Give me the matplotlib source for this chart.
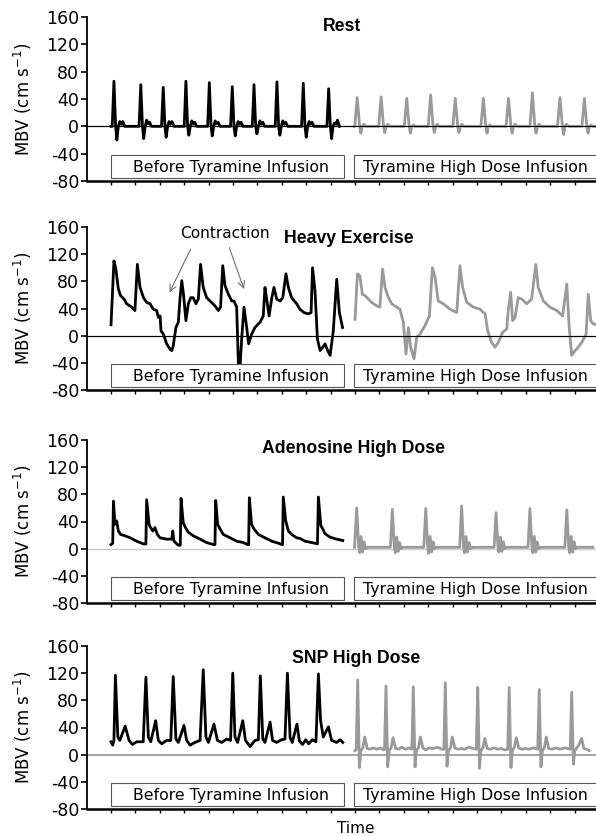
import matplotlib.pyplot as plt
from matplotlib.patches import Rectangle

# time is in tick units (one tick mark per unit), values in cm/s

# --- Rest ---
rest_before_t = [0.00,
                 0.05, 0.12, 0.19, 0.24, 0.30, 0.36, 0.42, 0.48, 0.56,
                 1.15, 1.22, 1.29, 1.34, 1.40, 1.46, 1.52, 1.58, 1.66,
                 2.07, 2.14, 2.21, 2.26, 2.32, 2.38, 2.44, 2.50, 2.58,
                 3.00, 3.07, 3.14, 3.19, 3.25, 3.31, 3.37, 3.43, 3.51,
                 3.96, 4.03, 4.10, 4.15, 4.21, 4.27, 4.33, 4.39, 4.47,
                 4.90, 4.97, 5.04, 5.09, 5.15, 5.21, 5.27, 5.33, 5.41,
                 5.79, 5.86, 5.93, 5.98, 6.04, 6.10, 6.16, 6.22, 6.30,
                 6.73, 6.80, 6.87, 6.92, 6.98, 7.04, 7.10, 7.16, 7.24,
                 7.81, 7.88, 7.95, 8.00, 8.06, 8.12, 8.18, 8.24, 8.32,
                 8.85, 8.92, 8.99, 9.04, 9.10, 9.16, 9.22, 9.28, 9.36]
rest_before_v = [0,
                 0, 66, 0, -20, 0, 7, 3, 7, 0,
                 0, 61, 0, -18, 0, 9, 4, 6, 0,
                 0, 57, 0, -16, 0, 7, 3, 7, 0,
                 0, 66, 0, -13, 0, 8, 3, 6, 0,
                 0, 64, 0, -14, 0, 8, 4, 6, 0,
                 0, 58, 0, -14, 0, 7, 3, 6, 0,
                 0, 61, 0, -11, 0, 8, 3, 6, 0,
                 0, 65, 0, -13, 0, 8, 3, 6, 0,
                 0, 63, 0, -16, 0, 7, 3, 6, 0,
                 0, 55, 0, -18, 0, 5, 3, 9, 0]

rest_after_t = [9.96,
                9.99, 10.09, 10.19, 10.24, 10.30, 10.36, 10.44,
                10.97, 11.07, 11.17, 11.22, 11.28, 11.34, 11.42,
                12.02, 12.12, 12.22, 12.27, 12.33, 12.39, 12.47,
                13.00, 13.10, 13.20, 13.25, 13.31, 13.37, 13.45,
                14.01, 14.11, 14.21, 14.26, 14.32, 14.38, 14.46,
                15.16, 15.26, 15.36, 15.41, 15.47, 15.53, 15.61,
                16.19, 16.29, 16.39, 16.44, 16.50, 16.56, 16.64,
                17.17, 17.27, 17.37, 17.42, 17.48, 17.54, 17.62,
                18.30, 18.40, 18.50, 18.55, 18.61, 18.67, 18.75,
                19.30, 19.40, 19.50, 19.55, 19.61, 19.67, 19.75, 19.85]
rest_after_v = [0,
                0, 42, 0, -10, 0, 3, 0,
                0, 43, 0, -9, 0, 3, 0,
                0, 41, 0, -10, 0, 2, 0,
                0, 46, 0, -9, 0, 3, 0,
                0, 41, 0, -9, 0, 3, 0,
                0, 41, 0, -10, 0, 2, 0,
                0, 41, 0, -10, 0, 3, 0,
                0, 49, 0, -10, 0, 3, 0,
                0, 42, 0, -12, 0, 3, 0,
                0, 41, 0, -10, 0, 2, 0, 0]

# --- Heavy Exercise ---
heavy_before_t = [0.00, 0.12, 0.20, 0.30, 0.39, 0.53, 0.64, 0.85, 0.98,
                  1.08, 1.19, 1.33, 1.46, 1.60, 1.73, 1.87, 1.94, 2.01, 2.05,
                  2.15, 2.28, 2.42, 2.49, 2.55, 2.66, 2.76,
                  2.83, 2.90, 2.97, 3.07, 3.17, 3.27, 3.37, 3.48, 3.58,
                  3.67, 3.78, 3.92, 4.06, 4.26, 4.40, 4.49,
                  4.58, 4.67, 4.81, 4.95, 5.04, 5.15, 5.22, 5.29, 5.36,
                  5.45, 5.56, 5.64, 5.76, 5.90, 6.11, 6.24,
                  6.31, 6.38, 6.48, 6.59, 6.68, 6.79, 6.93, 7.04,
                  7.17, 7.27, 7.40, 7.61, 7.74, 7.91, 8.09, 8.20,
                  8.26, 8.36, 8.46, 8.57, 8.68, 8.77, 8.88, 8.98, 9.11,
                  9.25, 9.36, 9.49]
heavy_before_v = [16, 110, 98, 69, 59, 54, 47, 42, 37,
                  105, 71, 56, 49, 47, 39, 37, 27, 29, 7,
                  2, -12, -20, -22, -15, 12, 20,
                  56, 81, 61, 22, 47, 56, 56, 47, 54,
                  105, 71, 56, 51, 44, 37, 42,
                  103, 74, 61, 51, 51, 42, -42, -44, -2,
                  42, 12, -12, 2, 12, 20, 29,
                  71, 54, 29, 56, 71, 54, 51, 56,
                  91, 71, 56, 47, 39, 34, 32, 34,
                  100, 66, -5, -22, -17, -12, -22, -29, 7,
                  83, 34, 12]

heavy_after_t = [10.00, 10.10, 10.20, 10.30, 10.41, 10.55, 10.68, 10.89, 11.02,
                 11.13, 11.23, 11.37, 11.50, 11.71, 11.84, 11.98, 12.09, 12.19,
                 12.28, 12.42, 12.53, 12.66, 12.87, 13.05,
                 13.17, 13.28, 13.41, 13.62, 13.89, 14.17,
                 14.30, 14.41, 14.58, 14.85, 15.12, 15.33, 15.44, 15.60, 15.74,
                 15.87, 16.05, 16.22, 16.28, 16.38, 16.46, 16.56, 16.69, 16.83,
                 17.04, 17.24,
                 17.41, 17.51, 17.72, 17.99, 18.27, 18.51,
                 18.68, 18.78, 18.88, 19.02, 19.15, 19.29, 19.47, 19.56, 19.66,
                 19.77, 19.88]
heavy_after_v = [24, 91, 88, 61, 59, 54, 49, 44, 42,
                 98, 71, 56, 47, 42, 39, 20, -27, 12,
                 -17, -34, -2, 2, 15, 29,
                 100, 86, 51, 47, 39, 34,
                 103, 71, 49, 42, 39, 32, 7, -10, -17,
                 -10, 5, 10, 37, 64, 22, 27, 56, 54,
                 47, 54,
                 105, 71, 51, 42, 37, 29,
                 76, 12, -29, -22, -17, -10, 2, 61, 22,
                 17, 17]

# --- Adenosine High Dose ---
aden_before_t = [0.00, 0.07, 0.10, 0.16, 0.23, 0.30, 0.39, 0.57, 0.78, 1.05, 1.33, 1.43,
                 1.46, 1.56, 1.62, 1.71, 1.80, 1.90, 2.01, 2.28, 2.49, 2.53, 2.58, 2.76, 2.84,
                 2.87, 2.96, 3.05, 3.17, 3.37, 3.65, 3.92, 4.20, 4.26,
                 4.29, 4.37, 4.47, 4.60, 4.88, 5.15, 5.42, 5.61, 5.64,
                 5.67, 5.76, 5.86, 6.04, 6.31, 6.59, 6.86, 7.01, 7.03,
                 7.06, 7.16, 7.27, 7.40, 7.61, 7.75, 7.95, 8.36, 8.46,
                 8.50, 8.60, 8.68, 8.77, 8.98, 9.25, 9.50]
aden_before_v = [6, 8, 70, 36, 41, 26, 21, 19, 16, 11, 7, 7,
                 72, 36, 31, 26, 31, 21, 16, 14, 14, 26, 11, 5, 5,
                 74, 38, 31, 24, 19, 14, 9, 6, 6,
                 71, 36, 29, 21, 16, 11, 9, 6, 6,
                 75, 36, 29, 21, 16, 11, 8, 6, 6,
                 76, 41, 26, 21, 16, 15, 11, 8, 7,
                 76, 34, 29, 22, 17, 14, 12]

aden_after_t = [9.98,
                10.07, 10.15, 10.19, 10.25, 10.31, 10.37, 10.43, 10.51,
                11.45, 11.53, 11.61, 11.65, 11.71, 11.77, 11.83, 11.89, 11.97,
                12.82, 12.90, 12.98, 13.02, 13.08, 13.14, 13.20, 13.26, 13.34,
                14.29, 14.37, 14.45, 14.49, 14.55, 14.61, 14.67, 14.73, 14.81,
                15.70, 15.78, 15.86, 15.90, 15.96, 16.02, 16.08, 16.14, 16.22,
                17.09, 17.17, 17.25, 17.29, 17.35, 17.41, 17.47, 17.53, 17.61,
                18.60, 18.68, 18.76, 18.80, 18.86, 18.92, 18.98, 19.04, 19.12,
                19.75]
aden_after_v = [2,
                60, 2, -6, 18, -5, 10, 0, 2,
                2, 58, 2, -6, 17, -4, 9, 0, 2,
                2, 59, 2, -7, 18, -5, 10, 0, 2,
                2, 63, 2, -6, 18, -5, 9, 0, 2,
                2, 53, 2, -5, 17, -4, 10, 0, 2,
                2, 59, 2, -6, 18, -5, 10, 0, 2,
                2, 57, 2, -6, 18, -5, 10, 0, 2,
                2]

# --- SNP High Dose ---
snp_before_t = [0.00, 0.07, 0.12, 0.18, 0.28, 0.36, 0.58, 0.74, 0.88, 1.05, 1.32,
                1.43, 1.53, 1.63, 1.83, 1.94, 2.08, 2.28, 2.45,
                2.55, 2.66, 2.76, 2.99, 3.10, 3.24, 3.44, 3.65,
                3.78, 3.89, 3.99, 4.22, 4.36, 4.54, 4.74, 4.90,
                4.99, 5.08, 5.19, 5.40, 5.51, 5.70, 5.90, 6.04,
                6.12, 6.22, 6.31, 6.52, 6.62, 6.79, 6.99, 7.13,
                7.23, 7.34, 7.43, 7.62, 7.72, 7.85, 7.98, 8.10, 8.25, 8.40,
                8.50, 8.59, 8.70, 8.91, 9.04, 9.25, 9.39, 9.50]
snp_before_v = [19, 14, 21, 117, 26, 21, 42, 21, 15, 19, 19,
                114, 26, 19, 50, 21, 16, 21, 21,
                115, 23, 18, 43, 21, 14, 18, 21,
                125, 26, 18, 45, 21, 18, 23, 21,
                120, 26, 18, 50, 21, 12, 21, 22,
                116, 23, 18, 48, 21, 18, 22, 23,
                120, 25, 18, 45, 20, 15, 22, 16, 22, 19,
                119, 50, 26, 41, 21, 18, 22, 18]

snp_after_t = [10.00, 10.05,
               10.11, 10.18, 10.24, 10.32, 10.40, 10.50, 10.62, 10.75, 10.90, 11.05, 11.18, 11.21,
               11.27, 11.34, 11.40, 11.48, 11.56, 11.66, 11.78, 11.92, 12.08, 12.22, 12.33,
               12.39, 12.46, 12.52, 12.60, 12.68, 12.78, 12.90, 13.05, 13.20, 13.38, 13.55, 13.64,
               13.70, 13.77, 13.83, 13.91, 13.99, 14.09, 14.21, 14.35, 14.50, 14.65, 14.85, 14.97,
               15.03, 15.10, 15.16, 15.24, 15.32, 15.42, 15.54, 15.70, 15.85, 16.00, 16.15, 16.26,
               16.32, 16.39, 16.45, 16.53, 16.61, 16.71, 16.83, 16.98, 17.15, 17.30, 17.49,
               17.55, 17.62, 17.68, 17.76, 17.84, 17.94, 18.06, 18.22, 18.40, 18.60, 18.82,
               18.88, 18.95, 19.01, 19.09, 19.17, 19.29, 19.38, 19.50, 19.60]
snp_after_v = [6, 8,
               110, -19, 6, 10, 26, 9, 8, 10, 8, 10, 7, 8,
               101, -18, 6, 10, 25, 9, 8, 11, 8, 10, 8,
               100, -18, 6, 10, 26, 10, 7, 10, 9, 11, 8, 8,
               106, -17, 6, 10, 26, 10, 8, 9, 8, 11, 9, 8,
               99, -20, 6, 10, 24, 9, 8, 10, 8, 9, 7, 8,
               99, -19, 6, 11, 25, 10, 8, 9, 8, 10, 8,
               96, -18, 6, 10, 26, 9, 8, 10, 8, 10, 8,
               92, -14, 6, 10, 14, 24, 9, 8, 6]

titles = ['Rest', 'Heavy Exercise', 'Adenosine High Dose', 'SNP High Dose']
title_x = [9.46, 9.75, 9.95, 10.05]
title_y = [139.5, 136, 140.4, 135]
zero_colors = ['black', 'black', '#cccccc', '#8c8c8c']
zero_widths = [0.8, 0.8, 1.0, 1.1]
box_labels = ['Before Tyramine Infusion', 'Tyramine High Dose Infusion']
y_ticks = [-80, -40, 0, 40, 80, 120, 160]

# axes rectangles in pixels: (top, bottom)
PANEL_PX = [(17, 181), (227, 390), (440, 603), (646, 809)]
W, H = 596, 836
LEFT = 87


def draw_panel(ax, i, before_t, before_v, after_t, after_v):
    ax.axhline(0, color=zero_colors[i], lw=zero_widths[i], zorder=1)
    ax.plot(after_t, after_v, color='#9a9a9a', lw=2.0, zorder=2)
    ax.plot(before_t, before_v, color='black', lw=2.0, zorder=3)
    if i < 2:
        ax.axhline(0, color='black', lw=0.8, zorder=4)
    # infusion boxes
    ax.add_patch(Rectangle((0, -76), 9.55, 34, fc='white', ec='#555555', lw=0.8, zorder=5))
    ax.add_patch(Rectangle((9.96, -76), 10.5, 34, fc='white', ec='#555555', lw=0.8, zorder=5))
    ax.text(4.9, -60, box_labels[0], ha='center', va='center', fontsize=11.3, zorder=6)
    ax.text(14.94, -60, box_labels[1], ha='center', va='center', fontsize=11.3, zorder=6)
    ax.text(title_x[i], title_y[i], titles[i], ha='center', va='baseline',
            fontsize=12.7, fontweight='bold', family='Liberation Sans')
    ax.set_xlim(-0.984, 19.877)
    ax.set_ylim(-80, 160)
    ax.set_yticks(y_ticks)
    ax.set_xticks(range(0, 20))
    ax.set_xticklabels([])
    ax.spines['top'].set_visible(False)
    ax.spines['right'].set_visible(False)
    ax.spines['left'].set_linewidth(1.3)
    ax.spines['bottom'].set_linewidth(1.8)
    ax.tick_params(axis='y', direction='out', length=4, width=1.2, pad=1.5, labelsize=12.5)
    ax.tick_params(axis='x', direction='out', length=3, width=1.0)
    ax.set_ylabel(r'MBV (cm s$^{\mathregular{-1}}$)', fontsize=12, labelpad=9)


def main():
    plt.rcParams['font.family'] = 'DejaVu Sans'
    plt.rcParams['axes.unicode_minus'] = False
    plt.rcParams['mathtext.default'] = 'regular'
    fig = plt.figure(figsize=(W / 100, H / 100), dpi=100)
    series = [(rest_before_t, rest_before_v, rest_after_t, rest_after_v),
              (heavy_before_t, heavy_before_v, heavy_after_t, heavy_after_v),
              (aden_before_t, aden_before_v, aden_after_t, aden_after_v),
              (snp_before_t, snp_before_v, snp_after_t, snp_after_v)]
    axes = []
    for i, (top, bottom) in enumerate(PANEL_PX):
        ax = fig.add_axes([LEFT / W, 1 - bottom / H, 1 - LEFT / W, (bottom - top) / H])
        draw_panel(ax, i, *series[i])
        axes.append(ax)
    # Contraction arrows on the heavy exercise panel
    ax = axes[1]
    ax.text(4.67, 149.7, 'Contraction', ha='center', va='center', fontsize=11.1)
    arrow = dict(arrowstyle='->', color='#707070', lw=0.8, mutation_scale=12)
    ax.annotate('', xy=(2.35, 60), xytext=(3.31, 131), arrowprops=arrow)
    ax.annotate('', xy=(5.49, 64.7), xytext=(4.81, 133.5), arrowprops=arrow)
    fig.text(356 / W, 1 - 821 / H, 'Time', ha='center', va='top', fontsize=11)
    fig.savefig('out.png', dpi=100)


if __name__ == '__main__':
    main()
